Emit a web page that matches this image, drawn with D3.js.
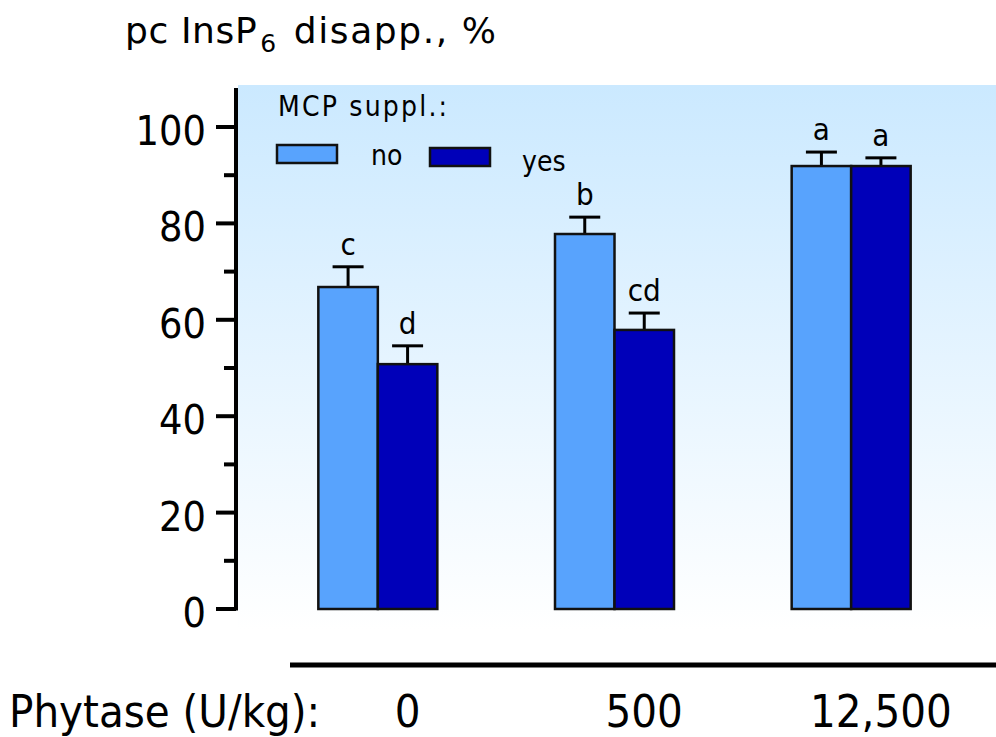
<!DOCTYPE html>
<html>
<head>
<meta charset="utf-8">
<script src="https://cdn.jsdelivr.net/npm/d3@7"></script>
<style>
  body { margin: 0; background: #fff; }
  svg text { font-family: "DejaVu Sans Condensed", "DejaVu Sans", sans-serif; font-stretch: condensed; fill: #000; }
  svg text.wide { font-family: "DejaVu Sans", sans-serif; font-stretch: normal; }
</style>
</head>
<body>
<div id="main"></div>
<script>
const ctx = {
    w: 996,
    h: 737
};

// data
const doses = ["0", "500", "12,500"];
const series = ["no", "yes"];
const meanNo = [66.8, 77.8, 91.9];
const meanYes = [50.8, 57.9, 91.9];
const errNo = [4.2, 3.5, 2.9];
const errYes = [3.8, 3.5, 1.7];
const lettersNo = ["c", "b", "a"];
const lettersYes = ["d", "cd", "a"];
const yTicks = [0, 20, 40, 60, 80, 100];
const yMinorTicks = [10, 30, 50, 70, 90];

const colors = { no: "#58a3fd", yes: "#0000b9" };

function createViz() {
    let svg = d3.select("#main").append("svg")
        .attr("width", ctx.w)
        .attr("height", ctx.h);

    // background gradient
    let defs = svg.append("defs");
    let grad = defs.append("linearGradient")
        .attr("id", "bgGrad")
        .attr("x1", 0).attr("y1", 0).attr("x2", 0).attr("y2", 1);
    grad.append("stop").attr("offset", "0%").attr("stop-color", "#cbe9ff");
    grad.append("stop").attr("offset", "100%").attr("stop-color", "#ffffff");

    let yScale = d3.scaleLinear().domain([0, 100]).range([609, 127]);
    let xScale = d3.scaleBand().domain(doses).range([260, 970]);
    let sub = d3.scaleBand().domain(series).range([0, 119]);

    svg.append("rect")
        .attr("x", 238).attr("y", 85)
        .attr("width", ctx.w - 238).attr("height", 545)
        .attr("fill", "url(#bgGrad)");

    // y axis
    let axisG = svg.append("g");
    axisG.append("line")
        .attr("x1", 236).attr("x2", 236)
        .attr("y1", yScale(0) + 1.5).attr("y2", yScale(108.1))
        .attr("stroke", "#000").attr("stroke-width", 4);
    axisG.selectAll("line.major")
        .data(yTicks).enter().append("line")
        .attr("class", "major")
        .attr("x1", 216).attr("x2", 236)
        .attr("y1", (d) => yScale(d)).attr("y2", (d) => yScale(d))
        .attr("stroke", "#000").attr("stroke-width", 4);
    axisG.selectAll("line.minor")
        .data(yMinorTicks).enter().append("line")
        .attr("class", "minor")
        .attr("x1", 224).attr("x2", 236)
        .attr("y1", (d) => yScale(d)).attr("y2", (d) => yScale(d))
        .attr("stroke", "#000").attr("stroke-width", 4);
    axisG.selectAll("text")
        .data(yTicks).enter().append("text")
        .attr("x", 206)
        .attr("y", (d) => yScale(d) + 18)
        .attr("text-anchor", "end")
        .style("font-size", "41px")
        .text((d) => d);

    // title
    let title = svg.append("text")
        .attr("class", "wide")
        .attr("x", 125).attr("y", 43)
        .style("font-size", "36px")
        .style("letter-spacing", "0.6px");
    title.append("tspan").text("pc InsP");
    title.append("tspan").attr("dx", 3).attr("dy", 9).style("font-size", "25px").text("6");
    title.append("tspan").attr("dx", 4).attr("dy", -9).style("letter-spacing", "1.6px").text(" disapp., %");

    // bars
    let rows = doses.map((d, i) => ({
        dose: d,
        vals: [
            { s: "no", v: meanNo[i], e: errNo[i], l: lettersNo[i] },
            { s: "yes", v: meanYes[i], e: errYes[i], l: lettersYes[i] }
        ]
    }));
    let groups = svg.selectAll("g.grp")
        .data(rows).enter().append("g")
        .attr("class", "grp")
        .attr("transform", (d) => `translate(${xScale(d.dose) + xScale.bandwidth() / 2 - 60},0)`);
    let bars = groups.selectAll("g.bar")
        .data((d) => d.vals).enter().append("g").attr("class", "bar");
    // error bars first, under the rects
    bars.append("line")
        .attr("x1", (d) => sub(d.s) + sub.bandwidth() / 2)
        .attr("x2", (d) => sub(d.s) + sub.bandwidth() / 2)
        .attr("y1", (d) => yScale(d.v))
        .attr("y2", (d) => yScale(d.v + d.e))
        .attr("stroke", "#000").attr("stroke-width", 3);
    bars.append("line")
        .attr("x1", (d) => sub(d.s) + sub.bandwidth() / 2 - 15.5)
        .attr("x2", (d) => sub(d.s) + sub.bandwidth() / 2 + 15.5)
        .attr("y1", (d) => yScale(d.v + d.e))
        .attr("y2", (d) => yScale(d.v + d.e))
        .attr("stroke", "#000").attr("stroke-width", 3);
    bars.append("rect")
        .attr("x", (d) => sub(d.s))
        .attr("y", (d) => yScale(d.v))
        .attr("width", sub.bandwidth())
        .attr("height", (d) => yScale(0) - yScale(d.v))
        .attr("fill", (d) => colors[d.s])
        .attr("stroke", "#111").attr("stroke-width", 2.5);
    bars.append("text")
        .attr("x", (d) => sub(d.s) + sub.bandwidth() / 2)
        .attr("y", (d) => yScale(d.v + d.e) - 12)
        .attr("text-anchor", "middle")
        .style("font-size", "31px")
        .text((d) => d.l);

    // legend
    let leg = svg.append("g");
    leg.append("text").attr("x", 278).attr("y", 116)
        .style("font-size", "28px").style("letter-spacing", "2.2px").text("MCP suppl.:");
    leg.append("rect").attr("x", 277).attr("y", 145).attr("width", 60).attr("height", 18)
        .attr("fill", colors.no).attr("stroke", "#111").attr("stroke-width", 2.5);
    leg.append("text").attr("x", 371).attr("y", 165)
        .style("font-size", "28px").text("no");
    leg.append("rect").attr("x", 430).attr("y", 148).attr("width", 60).attr("height", 18)
        .attr("fill", colors.yes).attr("stroke", "#111").attr("stroke-width", 2.5);
    leg.append("text").attr("x", 522).attr("y", 171)
        .style("font-size", "28px").text("yes");

    // x axis line and labels
    svg.append("line")
        .attr("x1", 290).attr("x2", ctx.w)
        .attr("y1", 665).attr("y2", 665)
        .attr("stroke", "#000").attr("stroke-width", 5);
    svg.append("text").attr("x", 9).attr("y", 727)
        .style("font-size", "45px").text("Phytase (U/kg):");
    // dose labels sit under the second (yes) bar of each group
    svg.selectAll("text.xlab")
        .data(doses).enter().append("text")
        .attr("class", "xlab")
        .attr("x", (d) => xScale(d) + xScale.bandwidth() / 2 - 60 + sub("yes") + sub.bandwidth() / 2)
        .attr("y", 727)
        .attr("text-anchor", "middle")
        .style("font-size", "45px")
        .text((d) => d);
}

createViz();
</script>
</body>
</html>
